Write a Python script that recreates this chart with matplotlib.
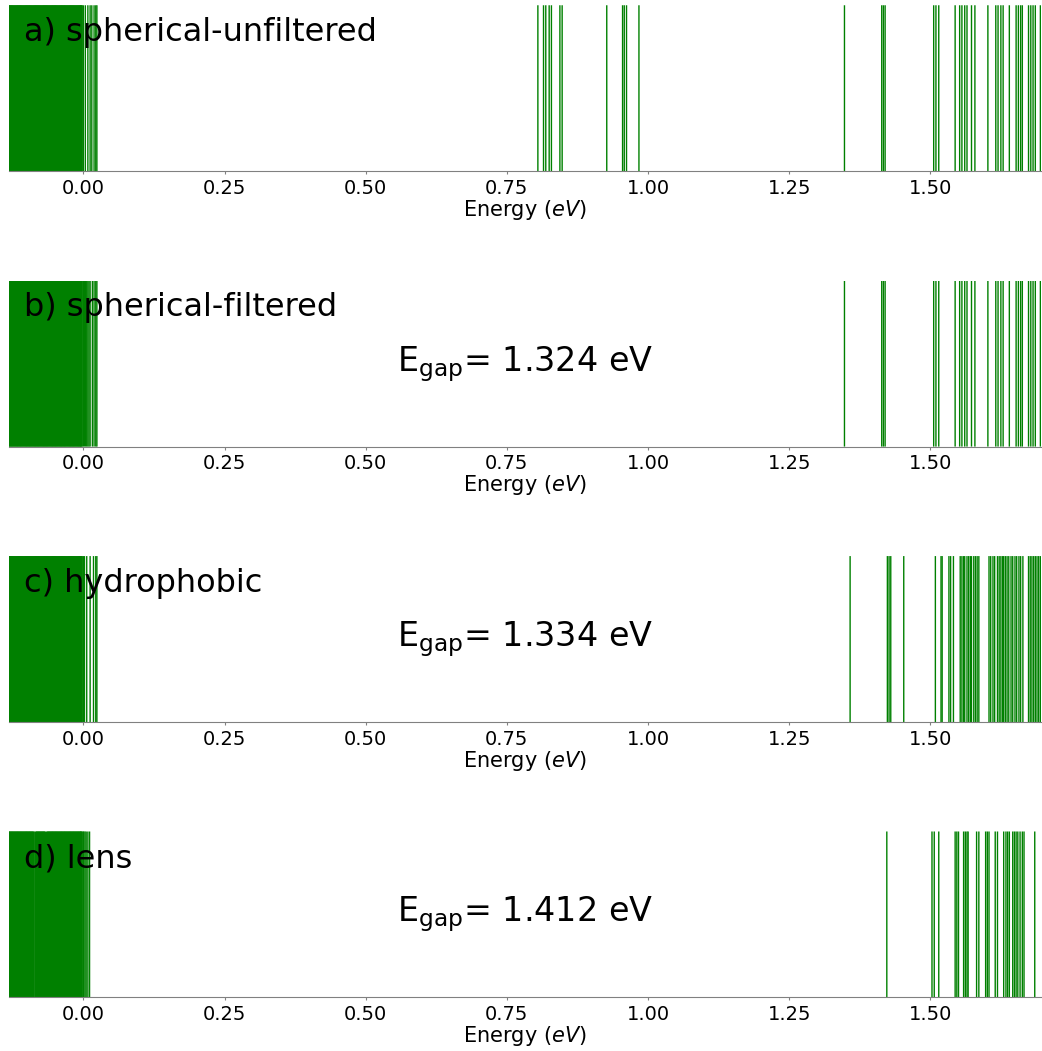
import matplotlib.pyplot as plt

# panel titles and gaps
titles = ['a) spherical-unfiltered', 'b) spherical-filtered',
          'c) hydrophobic', 'd) lens']
gaps = [None, 1.324, 1.334, 1.412]

# deep occupied states (fill the left side of every panel)
valence_core = [-0.136, -0.134, -0.132, -0.130, -0.128, -0.126, -0.124,
                -0.122, -0.120, -0.118, -0.116, -0.114, -0.112, -0.110,
                -0.108, -0.106, -0.104, -0.102, -0.100, -0.098, -0.096,
                -0.094, -0.092, -0.090, -0.088, -0.086, -0.084, -0.082,
                -0.080, -0.078, -0.076, -0.074, -0.072, -0.070, -0.068,
                -0.066, -0.064, -0.062, -0.060, -0.058, -0.056, -0.054,
                -0.052, -0.050, -0.048, -0.046, -0.044, -0.042, -0.040,
                -0.038, -0.036, -0.034, -0.032, -0.030, -0.028, -0.026,
                -0.024, -0.022, -0.020, -0.018, -0.016, -0.014, -0.012,
                -0.010, -0.008, -0.006, -0.004, -0.003]

valence_a = [0.0, 0.0035, 0.008, 0.012, 0.015, 0.019, 0.022, 0.024]
valence_b = [0.0, 0.002, 0.004, 0.006, 0.008, 0.010, 0.012, 0.016, 0.019,
             0.022, 0.024]
valence_c = [0.0, 0.002, 0.006, 0.012, 0.018, 0.022, 0.024]
valence_d = [0.0, 0.001, 0.003, 0.005, 0.008, 0.011]

conduction_a = [0.805, 0.815, 0.819, 0.825, 0.829, 0.844, 0.848, 0.927,
                0.955, 0.958, 0.962, 0.984, 1.348, 1.414, 1.417, 1.420,
                1.506, 1.510, 1.515, 1.544, 1.552, 1.556, 1.561, 1.565,
                1.573, 1.579, 1.602, 1.616, 1.620, 1.625, 1.629, 1.640,
                1.652, 1.656, 1.660, 1.663, 1.674, 1.678, 1.682, 1.686, 1.695]
conduction_b = [1.348, 1.414, 1.417, 1.420, 1.506, 1.510, 1.515, 1.544,
                1.552, 1.556, 1.561, 1.565, 1.573, 1.579, 1.602, 1.616,
                1.620, 1.625, 1.629, 1.640, 1.652, 1.656, 1.660, 1.663,
                1.674, 1.678, 1.682, 1.686, 1.695]
conduction_c = [1.358, 1.424, 1.427, 1.430, 1.453, 1.509, 1.519, 1.521,
                1.533, 1.536, 1.541, 1.553, 1.556, 1.559, 1.561, 1.565,
                1.568, 1.571, 1.573, 1.577, 1.580, 1.583, 1.586, 1.604,
                1.607, 1.611, 1.614, 1.619, 1.622, 1.625, 1.628, 1.630,
                1.633, 1.636, 1.639, 1.643, 1.646, 1.650, 1.653, 1.657,
                1.660, 1.664, 1.674, 1.677, 1.680, 1.683, 1.686, 1.689,
                1.692, 1.695]
conduction_d = [1.423, 1.503, 1.507, 1.515, 1.544, 1.547, 1.550, 1.559,
                1.562, 1.565, 1.567, 1.582, 1.586, 1.598, 1.601, 1.604,
                1.615, 1.619, 1.630, 1.634, 1.637, 1.640, 1.646, 1.649,
                1.652, 1.655, 1.659, 1.663, 1.666, 1.685]

core_d = [v for v in valence_core if v not in (-0.086, -0.066)]
cores = [valence_core, valence_core, valence_core, core_d]
levels = [valence_a + conduction_a,
          valence_b + conduction_b,
          valence_c + conduction_c,
          valence_d + conduction_d]

fig, axes = plt.subplots(4, 1, figsize=(10.42, 10.51), dpi=100)
fig.subplots_adjust(left=0.009, right=0.999, top=0.995, bottom=0.051,
                    hspace=0.66)

for ax, title, gap, core, e in zip(axes, titles, gaps, cores, levels):
    trans = ax.get_xaxis_transform()
    # the deep states overlap into a solid block
    ax.vlines(core, 0, 1, transform=trans, color='green', lw=1.8,
              snap=False)
    ax.vlines(e, 0, 1, transform=trans, color='green', lw=1.0, snap=False)
    ax.set_xlim(-0.131, 1.696)
    ax.set_ylim(0, 1)
    ax.set_yticks([])
    ax.set_xticks([0.0, 0.25, 0.5, 0.75, 1.0, 1.25, 1.5])
    ax.tick_params(axis='x', labelsize=14, color='gray', length=2)
    for s in ['top', 'left', 'right']:
        ax.spines[s].set_visible(False)
    ax.spines['bottom'].set_color('gray')
    ax.set_xlabel(r'Energy ($eV$)', fontsize=15, labelpad=0)
    ax.text(0.014, 0.93, title, transform=ax.transAxes, fontsize=23,
            va='top', ha='left')
    if gap is not None:
        ax.text(0.5, 0.5, r'E$_{\mathrm{gap}}$= %.3f eV' % gap,
                transform=ax.transAxes, fontsize=24, ha='center',
                va='center')

plt.savefig('out.png')
